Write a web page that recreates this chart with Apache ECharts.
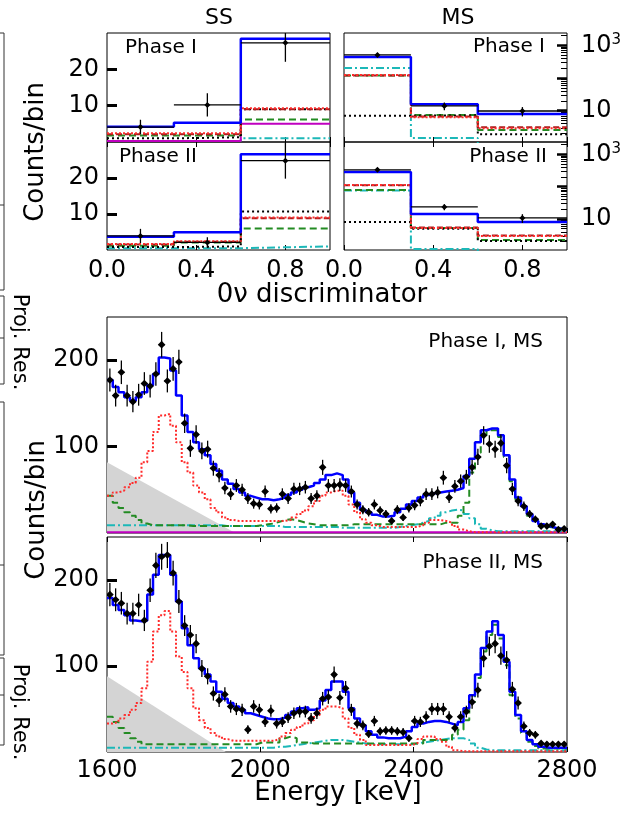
<!DOCTYPE html>
<html>
<head>
<meta charset="utf-8">
<script src="https://cdn.jsdelivr.net/npm/echarts@6/dist/echarts.min.js"></script>
<style>
  html, body { margin: 0; padding: 0; background: #fff; }
  #chart { width: 643px; height: 822px; }
</style>
</head>
<body>
<div id="chart"></div>
<script>
// 0nu discriminator bins for the SS / MS panels
const discEdges = [0, 0.3, 0.6, 1.0]

const ssP1Data = [4.1, 10.2, 27.3]
const ssP1Total = [4.2, 5.3, 28.4]
const ssP1Bi = [2.4, 2.4, 9.3]
const ssP1Other = [2.1, 2.1, 9.0]
const ssP1Tl = [1.8, 1.8, 6.2]
const ssP1Magenta = [0.3, 0.3, 5.0]
const ssP1Cyan = [0.3, 0.3, 1.0]
const ssP1Black = [1.0, 1.3, 9.0]

const ssP2Data = [3.9, 2.1, 24.8]
const ssP2Total = [3.7, 4.9, 26.6]
const ssP2Black = [0.8, 1.0, 10.7]
const ssP2Bi = [1.65, 2.4, 9.0]
const ssP2Other = [1.5, 2.3, 8.8]
const ssP2Tl = [1.2, 2.1, 6.0]
const ssP2Cyan = [0.5, 0.5, 1.0]

const msP1Data = [513, 14.0, 9.8]
const msP1Total = [445, 15.7, 7.9]
const msP1Cyan = [205, 1.46, 0.5]
const msP1Bi = [125, 6.3, 2.9]
const msP1Other = [120, 6.6, 3.1]
const msP1Tl = [120, 7.4, 2.56]
const msP1Black = [7.0, 7.2, 1.9]

const msP2Data = [330, 23.6, 10.8]
const msP2Total = [286, 14.3, 8.1]
const msP2Bi = [113, 5.3, 2.98]
const msP2Other = [110, 5.5, 3.1]
const msP2Tl = [79, 5.3, 2.24]
const msP2Cyan = [76, 1.18, 0.5]
const msP2Black = [8.1, 5.0, 2.1]

// tick positions of the log (MS) axes
const logMajorTicks = [10, 100, 1000]
const logMinorTicks = [2, 3, 4, 5, 6, 7, 8, 9, 20, 30, 40, 50, 60, 70, 80, 90,
  200, 300, 400, 500, 600, 700, 800, 900, 2000]

// energy spectra (MS), 15 keV bins starting at 1600 keV
const energyStart = 1600
const energyBin = 15

const p1Data = [177, 159, 186, 159, 152, 160, 173, 170, 184, 218, 176, 190, 198, 127, 98, 114, 95, 97, 75, 67,
  52, 45, 55, 50, 40, 34, 33, 48, 28, 29, 45, 40, 51, 51, 53, 40, 43, 76, 55, 55,
  56, 55, 48, 33, 27, 24, 33, 26, 22, 14, 27, 18, 29, 32, 37, 45, 45, 47, 64, 41,
  54, 60, 65, 76, 88, 113, 103, 97, 104, 78, 51, 37, 31, 22, 16, 8, 8, 10, 4, 5]
const p1Total = [177, 169, 163, 157, 153, 157, 163, 171, 184, 203, 202, 188, 159, 136, 117, 105, 97, 90, 80, 72,
  62, 57, 51, 47, 43, 41, 39, 39, 38, 39, 41, 44, 47, 50, 53, 55, 58, 62, 67, 69,
  67, 62, 47, 35, 27, 24, 21, 19, 19, 20, 24, 28, 33, 37, 41, 44, 46, 47, 48, 49,
  50, 52, 66, 86, 105, 119, 121, 121, 113, 90, 62, 41, 31, 22, 14, 10, 8, 6, 5, 4]
const p1Bi = [43, 47, 49, 53, 58, 64, 82, 95, 117, 136, 138, 124, 105, 82, 70, 55, 47, 39, 29, 24,
  18, 15, 14, 14, 14, 14, 14, 14, 14, 14, 14, 15, 18, 22, 26, 31, 37, 43, 47, 49,
  49, 43, 33, 24, 16, 12, 9, 7, 7, 7, 7, 7, 7, 7, 9, 12, 15, 15, 14, 12,
  8, 4, 2, 1, 1, 1, 1, 1, 1, 1, 1, 1, 1, 1, 1, 1, 1, 1, 1, 1]
const p1Tl = [43, 35, 29, 24, 20, 15, 11, 9, 9, 9, 9, 9, 9, 9, 8, 8, 8, 8, 8, 8,
  8, 8, 8, 8, 8, 8, 9, 10, 11, 13, 15, 16, 15, 13, 11, 10, 9, 9, 9, 9,
  9, 9, 10, 10, 10, 10, 10, 10, 10, 10, 10, 10, 10, 10, 10, 10, 10, 10, 12, 12,
  12, 20, 35, 70, 93, 113, 119, 119, 111, 88, 60, 39, 29, 20, 14, 10, 7, 6, 5, 4]
const p1Cyan = [9, 9, 9, 9, 9, 9, 9, 9, 9, 9, 9, 9, 9, 9, 9, 9, 9, 9, 9, 9,
  8, 8, 8, 8, 8, 8, 8, 8, 8, 8, 7, 7, 7, 7, 7, 7, 7, 7, 7, 7,
  6, 6, 6, 6, 6, 6, 6, 6, 6, 6, 7, 8, 9, 10, 12, 14, 17, 20, 24, 26,
  27, 26, 22, 17, 10, 5, 3, 2, 2, 2, 2, 2, 2, 2, 2, 2, 2, 2, 2, 2]
const p1Magenta = [0.8, 0.8, 0.8, 0.8, 0.8, 0.8, 0.8, 0.8, 0.8, 0.8, 0.8, 0.8, 0.8, 0.8, 0.8, 0.8, 0.8, 0.8, 0.8, 0.8,
  0.8, 0.8, 0.8, 0.8, 0.8, 0.8, 0.8, 0.8, 0.8, 0.8, 0.8, 0.8, 0.8, 0.8, 0.8, 0.8, 0.8, 0.8, 0.8, 0.8,
  0.8, 0.8, 0.8, 0.8, 0.8, 0.8, 0.8, 0.8, 0.8, 0.8, 0.8, 0.8, 0.8, 0.8, 0.8, 0.8, 0.8, 0.8, 0.8, 0.8,
  0.8, 0.8, 0.8, 0.8, 0.8, 0.8, 0.8, 0.8, 0.8, 0.8, 0.8, 0.8, 0.8, 0.8, 0.8, 0.8, 0.8, 0.8, 0.8, 0.8]
const p1ContE = [1600, 1935]
const p1ContCounts = [82, 0]

const p2Data = [183, 177, 173, 161, 161, 171, 153, 188, 217, 227, 229, 208, 175, 147, 136, 126, 97, 88, 68, 60,
  67, 53, 50, 49, 26, 53, 49, 35, 48, 33, 35, 40, 45, 47, 47, 39, 45, 62, 64, 90,
  63, 74, 49, 33, 31, 21, 36, 24, 25, 25, 24, 23, 16, 36, 35, 41, 50, 50, 50, 41,
  28, 41, 47, 58, 72, 109, 123, 126, 112, 107, 73, 57, 30, 22, 20, 10, 9, 9, 9, 9]
const p2Total = [179, 171, 165, 159, 153, 152, 153, 183, 206, 229, 229, 206, 175, 144, 124, 109, 97, 90, 82, 70,
  62, 57, 53, 49, 45, 43, 41, 39, 38, 38, 40, 43, 47, 51, 52, 49, 51, 60, 72, 82,
  82, 70, 51, 39, 31, 24, 20, 17, 16, 16, 16, 18, 24, 29, 33, 35, 36, 36, 35, 33,
  31, 35, 51, 66, 90, 121, 140, 152, 136, 105, 70, 43, 24, 14, 9, 6, 5, 5, 5, 5]
const p2Bi = [33, 35, 39, 43, 49, 57, 74, 105, 140, 159, 164, 140, 111, 93, 74, 51, 37, 28, 22, 18,
  15, 13, 13, 13, 13, 13, 13, 13, 13, 15, 18, 22, 26, 29, 33, 37, 43, 49, 53, 53,
  51, 39, 28, 20, 14, 8, 8, 8, 8, 8, 8, 8, 8, 10, 15, 18, 18, 15, 12, 6,
  2, 1, 1, 1, 1, 1, 1, 1, 1, 1, 1, 1, 1, 1, 1, 1, 1, 1, 1, 1]
const p2Tl = [41, 35, 28, 22, 16, 12, 9, 9, 9, 9, 9, 9, 9, 9, 9, 9, 9, 9, 9, 9,
  9, 9, 9, 9, 9, 9, 11, 11, 11, 11, 16, 18, 16, 11, 11, 10, 10, 10, 10, 10,
  10, 10, 10, 10, 10, 10, 10, 10, 10, 10, 10, 10, 10, 10, 10, 14, 14, 14, 14, 14,
  20, 26, 37, 58, 86, 117, 136, 148, 132, 101, 66, 39, 22, 12, 7, 4, 4, 4, 4, 4]
const p2Cyan = [5, 5, 5, 5, 5, 5, 5, 5, 5, 5, 5, 5, 5, 5, 5, 5, 5, 5, 5, 5,
  5, 5, 5, 5, 5, 5, 5, 5, 5, 6, 6, 7, 8, 9, 10, 11, 12, 13, 14, 14,
  14, 13, 12, 11, 10, 9, 9, 9, 9, 9, 9, 9, 9, 10, 11, 12, 13, 14, 15, 16,
  16, 16, 14, 10, 5, 3, 2, 2, 2, 2, 2, 2, 2, 2, 2, 2, 2, 2, 2, 2]
const p2ContE = [1600, 1910]
const p2ContCounts = [88, 0]

const energyEdges = []
for (let i = 0; i <= p1Data.length; i++) energyEdges.push(energyStart + i * energyBin)

const FONT = 'DejaVu Sans'
const LINE = {
  total: { color: '#0000ff', width: 2.5, type: 'solid' },
  bi: { color: '#ff2b2b', width: 2, type: [2, 2] },
  other: { color: '#a81c1c', width: 2, type: [6, 3] },
  tl: { color: '#238b23', width: 2, type: [7, 4] },
  cyan: { color: '#1cb8b8', width: 2, type: [8, 3, 2, 3] },
  black: { color: '#000000', width: 2, type: [2, 3] },
  magenta: { color: '#c000c0', width: 2, type: 'solid' },
}

// histogram drawn as a stepped line through the bin edges
function step(edges, values, idx, style, z) {
  const pts = values.map((v, i) => [edges[i], v])
  pts.push([edges[edges.length - 1], values[values.length - 1]])
  return {
    type: 'line', step: 'end', xAxisIndex: idx, yAxisIndex: idx,
    data: pts, symbol: 'none', silent: true, clip: true, z: z || 3,
    lineStyle: { color: style.color, width: style.width, type: style.type },
  }
}

// data points with poisson error bars and bin-width bars
function points(edges, values, idx, r) {
  return {
    type: 'custom', xAxisIndex: idx, yAxisIndex: idx, clip: true, z: 10, silent: true,
    data: values.map((v, i) => [edges[i], edges[i + 1], v]),
    renderItem(params, api) {
      const x0 = api.value(0), x1 = api.value(1), v = api.value(2)
      const err = Math.sqrt(v)
      const xc = (x0 + x1) / 2
      const c = api.coord([xc, v])
      const l = api.coord([x0, v]), rr = api.coord([x1, v])
      const t = api.coord([xc, v + err]), b = api.coord([xc, Math.max(v - err, 0.01)])
      const s = { stroke: '#000', lineWidth: 1.3 }
      return {
        type: 'group', children: [
          { type: 'line', shape: { x1: l[0], y1: c[1], x2: rr[0], y2: c[1] }, style: s },
          { type: 'line', shape: { x1: c[0], y1: t[1], x2: c[0], y2: b[1] }, style: s },
          { type: 'polygon', shape: { points: [[c[0], c[1] - r], [c[0] + r, c[1]], [c[0], c[1] + r], [c[0] - r, c[1]]] }, style: { fill: '#000' } },
        ],
      }
    },
  }
}

function continuum(es, counts, idx) {
  return {
    type: 'line', xAxisIndex: idx, yAxisIndex: idx, data: es.map((e, i) => [e, counts[i]]),
    symbol: 'none', silent: true, z: 1, lineStyle: { width: 0 }, areaStyle: { color: '#d4d4d4', opacity: 1 },
  }
}

const frame = { show: true, borderColor: '#000', borderWidth: 1, backgroundColor: 'transparent' }
const msP1Box = { left: 344, top: 33, width: 223, height: 109 }
const msP2Box = { left: 344, top: 142, width: 223, height: 108 }
const grids = [
  { left: 107, top: 33, width: 223, height: 109, ...frame },
  { left: 107, top: 142, width: 223, height: 108, ...frame },
  { ...msP1Box, ...frame },
  { ...msP2Box, ...frame },
  { left: 107, top: 317, width: 460, height: 216, ...frame },
  { left: 107, top: 537, width: 460, height: 215, ...frame },
  // overlays that only carry the minor ticks of the log axes
  { ...msP1Box, show: false },
  { ...msP2Box, show: false },
]

const tickLabel = { color: '#000', fontFamily: FONT, fontSize: 24 }
const noLine = { show: false, onZero: false }

function discX(grid, labels) {
  return {
    type: 'value', gridIndex: grid, min: 0, max: 1, interval: 0.4,
    axisLine: noLine, splitLine: { show: false },
    axisTick: { inside: true, length: 5, lineStyle: { color: '#000', width: 1 } },
    axisLabel: { show: labels, ...tickLabel, margin: 9, showMaxLabel: false, formatter: (v) => v.toFixed(1) },
  }
}
function energyX(grid, labels) {
  return {
    type: 'value', gridIndex: grid, min: 1600, max: 2800, interval: 400,
    axisLine: noLine, splitLine: { show: false },
    axisTick: { inside: true, length: 5, lineStyle: { color: '#000', width: 1 } },
    axisLabel: { show: labels, ...tickLabel, margin: 7, formatter: (v) => String(v) },
  }
}
function topTicks(grid, min, max, interval) {
  return {
    type: 'value', gridIndex: grid, position: 'top', min, max, interval,
    axisLine: noLine, splitLine: { show: false }, axisLabel: { show: false },
    axisTick: { inside: true, length: 5, lineStyle: { color: '#000', width: 1 } },
  }
}
function hiddenX(grid) {
  return { type: 'value', gridIndex: grid, min: 0, max: 1, show: false }
}
function linY(grid, max, ticks) {
  return {
    type: 'value', gridIndex: grid, min: 0, max,
    axisLine: noLine, splitLine: { show: false },
    axisTick: { inside: true, length: 10, customValues: ticks, lineStyle: { color: '#000', width: 3 } },
    axisLabel: { ...tickLabel, margin: 8, customValues: ticks },
  }
}
function logY(grid) {
  return {
    type: 'log', logBase: 10, gridIndex: grid, min: 1.1, max: 2400, position: 'right',
    axisLine: noLine, splitLine: { show: false },
    axisTick: { inside: true, length: 10, customValues: logMajorTicks, lineStyle: { color: '#000', width: 2.5 } },
    axisLabel: {
      color: '#000', fontFamily: FONT, margin: 14,
      formatter: (v) => {
        if (Math.abs(v - 10) < 1e-3) return '{b|10}'
        if (Math.abs(v - 1000) < 1e-2) return '{b|10}{s|3}'
        return ''
      },
      rich: {
        b: { fontSize: 24, fontFamily: FONT, color: '#000', lineHeight: 26 },
        s: { fontSize: 15, fontFamily: FONT, color: '#000', verticalAlign: 'top', lineHeight: 26, padding: [0, 0, 10, 0] },
      },
    },
  }
}
function logMinorY(grid) {
  return {
    type: 'log', logBase: 10, gridIndex: grid, min: 1.1, max: 2400, position: 'right',
    axisLine: noLine, splitLine: { show: false }, axisLabel: { show: false },
    axisTick: { inside: true, length: 6, customValues: logMinorTicks, lineStyle: { color: '#000', width: 1 } },
  }
}

function txt(text, x, y, size, align, rotation) {
  return {
    type: 'text', x, y, rotation: rotation || 0, silent: true,
    style: { text, fill: '#000', font: `${size}px "${FONT}"`, textAlign: align || 'center', textVerticalAlign: 'middle' },
  }
}
function seg(x1, y1, x2, y2) {
  return { type: 'line', silent: true, shape: { x1, y1, x2, y2 }, style: { stroke: '#333', lineWidth: 1 } }
}

const graphic = [
  txt('SS', 219, 18, 22),
  txt('MS', 458, 18, 22),
  txt('Phase I', 125, 48, 20, 'left'),
  txt('Phase II', 119, 157, 20, 'left'),
  txt('Phase I', 545, 47, 20, 'right'),
  txt('Phase II', 547, 157, 20, 'right'),
  txt('Phase I, MS', 543, 342, 20, 'right'),
  txt('Phase II, MS', 543, 563, 20, 'right'),
  txt('0\u03bd discriminator', 322, 295, 26),
  txt('Energy [keV]', 338, 793, 26),
  txt('Counts/bin', 36, 152, 26, 'center', Math.PI / 2),
  txt('Counts/bin', 37, 510, 26, 'center', Math.PI / 2),
  txt('Proj. Res.', 19, 342, 21, 'center', -Math.PI / 2),
  txt('Proj. Res.', 19, 712, 21, 'center', -Math.PI / 2),
  // edges of the neighbouring panels cut off at the left
  seg(4, 33, 4, 290), seg(4, 296, 4, 384), seg(4, 402, 4, 655), seg(4, 658, 4, 745),
  seg(0, 33, 4, 33), seg(0, 205, 4, 205), seg(0, 290, 4, 290), seg(0, 296, 4, 296),
  seg(0, 338, 4, 338), seg(0, 384, 4, 384), seg(0, 402, 4, 402), seg(0, 565, 4, 565),
  seg(0, 655, 4, 655), seg(0, 658, 4, 658), seg(0, 695, 4, 695), seg(0, 745, 4, 745),
]

const series = [
  // SS phase I
  step(discEdges, ssP1Cyan, 0, LINE.cyan),
  step(discEdges, ssP1Magenta, 0, LINE.magenta),
  step(discEdges, ssP1Tl, 0, LINE.tl),
  step(discEdges, ssP1Black, 0, LINE.black),
  step(discEdges, ssP1Other, 0, LINE.other),
  step(discEdges, ssP1Bi, 0, LINE.bi),
  step(discEdges, ssP1Total, 0, LINE.total, 5),
  points(discEdges, ssP1Data, 0, 3),
  // SS phase II
  step(discEdges, ssP2Cyan, 1, LINE.cyan),
  step(discEdges, ssP2Tl, 1, LINE.tl),
  step(discEdges, ssP2Other, 1, LINE.other),
  step(discEdges, ssP2Bi, 1, LINE.bi),
  step(discEdges, ssP2Black, 1, LINE.black),
  step(discEdges, ssP2Total, 1, LINE.total, 5),
  points(discEdges, ssP2Data, 1, 3),
  // MS phase I
  step(discEdges, msP1Cyan, 2, LINE.cyan),
  step(discEdges, msP1Tl, 2, LINE.tl),
  step(discEdges, msP1Black, 2, LINE.black),
  step(discEdges, msP1Other, 2, LINE.other),
  step(discEdges, msP1Bi, 2, LINE.bi),
  step(discEdges, msP1Total, 2, LINE.total, 5),
  points(discEdges, msP1Data, 2, 3),
  // MS phase II
  step(discEdges, msP2Cyan, 3, LINE.cyan),
  step(discEdges, msP2Tl, 3, LINE.tl),
  step(discEdges, msP2Black, 3, LINE.black),
  step(discEdges, msP2Other, 3, LINE.other),
  step(discEdges, msP2Bi, 3, LINE.bi),
  step(discEdges, msP2Total, 3, LINE.total, 5),
  points(discEdges, msP2Data, 3, 3),
  // energy spectrum phase I
  continuum(p1ContE, p1ContCounts, 4),
  step(energyEdges, p1Magenta, 4, LINE.magenta),
  step(energyEdges, p1Cyan, 4, LINE.cyan),
  step(energyEdges, p1Tl, 4, LINE.tl),
  step(energyEdges, p1Bi, 4, LINE.bi),
  step(energyEdges, p1Total, 4, LINE.total, 5),
  points(energyEdges, p1Data, 4, 3.8),
  // energy spectrum phase II
  continuum(p2ContE, p2ContCounts, 5),
  step(energyEdges, p2Cyan, 5, LINE.cyan),
  step(energyEdges, p2Tl, 5, LINE.tl),
  step(energyEdges, p2Bi, 5, LINE.bi),
  step(energyEdges, p2Total, 5, LINE.total, 5),
  points(energyEdges, p2Data, 5, 3.8),
]

const chart = echarts.init(document.getElementById('chart'))
chart.setOption({
  animation: false,
  backgroundColor: '#fff',
  grid: grids,
  xAxis: [
    discX(0, false), discX(1, true), discX(2, false), discX(3, true),
    energyX(4, false), energyX(5, true),
    hiddenX(6), hiddenX(7),
    topTicks(1, 0, 1, 0.4), topTicks(3, 0, 1, 0.4), topTicks(5, 1600, 2800, 400),
  ],
  yAxis: [
    linY(0, 30, [10, 20]), linY(1, 30, [10, 20]), logY(2), logY(3),
    linY(4, 250, [100, 200]), linY(5, 250, [100, 200]),
    logMinorY(6), logMinorY(7),
  ],
  series,
  graphic,
})
</script>
</body>
</html>
